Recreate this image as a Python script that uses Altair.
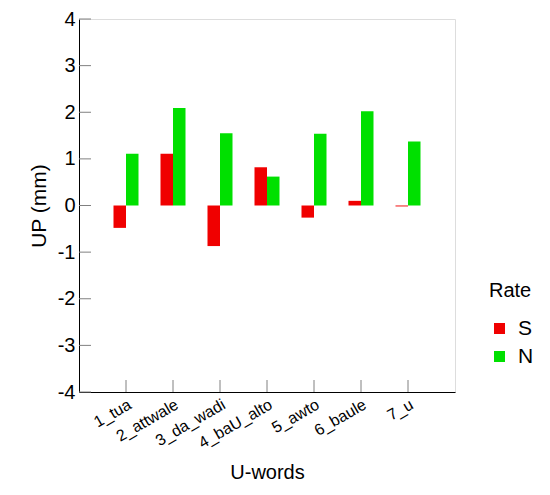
import altair as alt
import pandas as pd

words = ["1_tua", "2_attwale", "3_da_wadi", "4_baU_alto", "5_awto", "6_baule", "7_u"]
s_vals = [-0.48, 1.11, -0.87, 0.82, -0.26, 0.10, -0.02]
n_vals = [1.11, 2.09, 1.55, 0.62, 1.54, 2.02, 1.37]
rates = ["S", "N"]
y_ticks = [-4, -3, -2, -1, 0, 1, 2, 3, 4]

rows = []
for w, s, n in zip(words, s_vals, n_vals):
    rows.append({"word": w, "Rate": "S", "UP": s})
    rows.append({"word": w, "Rate": "N", "UP": n})
df = pd.DataFrame(rows)
ticks_df = pd.DataFrame({"v": y_ticks})
words_df = pd.DataFrame({"word": words})

FONT = "Liberation Sans"
W, H = 376, 373

xscale = alt.Scale(domain=words, paddingInner=0.468, paddingOuter=0.734)
yscale = alt.Scale(domain=[-4, 4], nice=False)

bars = alt.Chart(df).mark_bar().encode(
    x=alt.X("word:N", scale=xscale, sort=words,
            axis=alt.Axis(title="U-words", labelAngle=-30, labelAlign="right",
                          labelBaseline="top", labelFontSize=16, titleFontSize=20,
                          ticks=False, domainColor="black", labelColor="black",
                          titleColor="black", titleFontWeight="normal",
                          labelPadding=4, titlePadding=12)),
    xOffset=alt.XOffset("Rate:N", sort=rates, scale=alt.Scale(domain=rates)),
    y=alt.Y("UP:Q", scale=yscale,
            axis=alt.Axis(title="UP (mm)", values=y_ticks, ticks=False, grid=False,
                          labelExpr="datum.value < 0 ? '-' + abs(datum.value) : '' + datum.value",
                          labelFontSize=20, titleFontSize=21, domainColor="black",
                          labelColor="black", titleColor="black",
                          titleFontWeight="normal", labelPadding=4, titlePadding=8)),
    color=alt.Color("Rate:N", sort=rates,
                    scale=alt.Scale(domain=rates, range=["#f00000", "#00e000"]),
                    legend=alt.Legend(title="Rate", orient="none", legendX=410, legendY=262,
                                      symbolType="square", symbolSize=121,
                                      symbolStrokeWidth=0, titleFontSize=20,
                                      labelFontSize=21, titleFontWeight="normal",
                                      labelOffset=8, rowPadding=6, titlePadding=17,
                                      titleColor="black", labelColor="black")),
)

yt = alt.Chart(ticks_df).mark_rule(color="#808080").encode(
    y=alt.Y("v:Q", scale=yscale), x=alt.value(0), x2=alt.value(12)
)
xt = alt.Chart(words_df).mark_rule(color="#808080").encode(
    x=alt.X("word:N", scale=xscale, sort=words), y=alt.value(H), y2=alt.value(H - 12)
)

chart = alt.layer(bars, yt, xt).properties(
    width=W, height=H,
    autosize=alt.AutoSizeParams(type="none"),
    padding={"left": 71, "top": 11, "right": 80, "bottom": 100},
).configure_view(stroke="black", strokeWidth=1).configure(font=FONT).configure_axis(grid=False)

chart.save("out.html", embed_options={"renderer": "svg", "actions": False})
